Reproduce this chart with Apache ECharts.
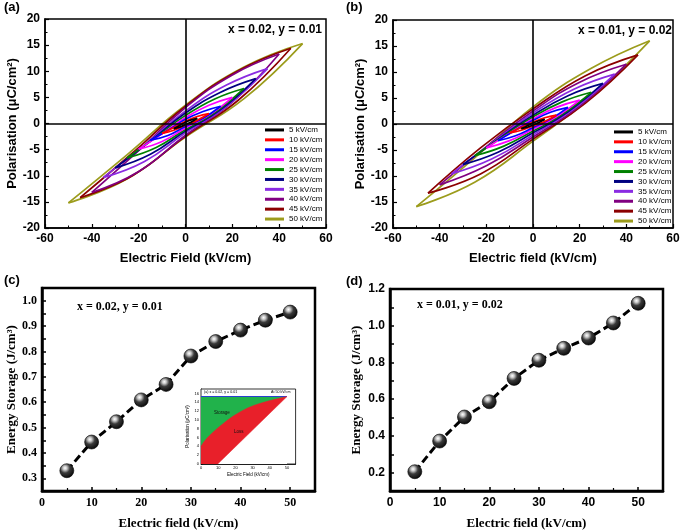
<!DOCTYPE html>
<html>
<head>
<meta charset="utf-8">
<script src="https://cdn.jsdelivr.net/npm/echarts@6/dist/echarts.min.js"></script>
<style>
html,body{margin:0;padding:0;background:#fff;}
#chart{width:685px;height:531px;}
</style>
</head>
<body>
<div id="chart"></div>
<script>
// ---------- DATA ----------
const fields = [5, 10, 15, 20, 25, 30, 35, 40, 45, 50];
const loopNames = fields.map(f => f + ' kV/cm');

// Panel (a) x = 0.02, y = 0.01 : rising branch (-Emax -> +Emax), falling branch (+Emax -> -Emax)
const aUpper = [
  [[-5,-1.0],[-2.5,-0.4],[0,0.25],[2.5,0.7],[5,1.0]],
  [[-10,-1.9],[-5,-0.75],[0,0.45],[5,1.35],[10,1.9]],
  [[-15,-3.2],[-7.5,-1.3],[0,0.8],[7.5,2.3],[15,3.3]],
  [[-20,-4.9],[-10,-1.95],[0,1.15],[10,3.5],[20,5.0]],
  [[-25,-6.6],[-12.5,-2.6],[0,1.55],[12.5,4.7],[25,6.7]],
  [[-30,-8.5],[-15,-3.35],[0,2.0],[15,6.0],[30,8.6]],
  [[-35,-10.3],[-17.5,-4.1],[0,2.4],[17.5,7.35],[35,10.5]],
  [[-40,-13.2],[-20,-5.2],[0,3.05],[20,9.3],[40,13.3]],
  [[-45,-14.2],[-22.5,-5.6],[0,3.3],[22.5,10.1],[45,14.4]],
  [[-50,-15.2],[-25,-6.0],[0,3.5],[25,10.8],[50,15.3]]
];
const aLower = [
  [[5,1.0],[2.5,0.3],[0,-0.2],[-2.5,-0.7],[-5,-1.0]],
  [[10,1.9],[5,0.6],[0,-0.3],[-5,-1.3],[-10,-1.9]],
  [[15,3.3],[7.5,1.0],[0,-0.55],[-7.5,-2.3],[-15,-3.2]],
  [[20,5.0],[10,1.55],[0,-0.85],[-10,-3.45],[-20,-4.9]],
  [[25,6.7],[12.5,2.1],[0,-1.15],[-12.5,-4.6],[-25,-6.6]],
  [[30,8.6],[15,2.65],[0,-1.45],[-15,-5.9],[-30,-8.5]],
  [[35,10.5],[17.5,3.25],[0,-1.8],[-17.5,-7.25],[-35,-10.3]],
  [[40,13.3],[20,4.1],[0,-2.25],[-20,-9.2],[-40,-13.2]],
  [[45,14.4],[22.5,4.45],[0,-2.45],[-22.5,-9.95],[-45,-14.2]],
  [[50,15.3],[25,4.75],[0,-2.6],[-25,-10.6],[-50,-15.2]]
];

// Panel (b) x = 0.01, y = 0.02
const bUpper = [
  [[-5,-0.9],[-2.5,-0.35],[0,0.2],[2.5,0.63],[5,0.9]],
  [[-10,-1.7],[-5,-0.65],[0,0.37],[5,1.2],[10,1.7]],
  [[-15,-3.2],[-7.5,-1.2],[0,0.7],[7.5,2.25],[15,3.2]],
  [[-20,-4.6],[-10,-1.75],[0,1.0],[10,3.2],[20,4.6]],
  [[-25,-6.1],[-12.5,-2.3],[0,1.35],[12.5,4.25],[25,6.1]],
  [[-30,-7.8],[-15,-2.95],[0,1.7],[15,5.45],[30,7.8]],
  [[-35,-9.6],[-17.5,-3.65],[0,2.1],[17.5,6.7],[35,9.6]],
  [[-40,-11.7],[-20,-4.35],[0,2.5],[20,8.05],[40,11.5]],
  [[-45,-13.3],[-22.5,-4.6],[0,2.9],[22.5,9.3],[45,13.3]],
  [[-50,-15.9],[-25,-6.5],[0,3.3],[25,10.7],[50,16.0]]
];
const bLower = [
  [[5,0.9],[2.5,0.27],[0,-0.2],[-2.5,-0.63],[-5,-0.9]],
  [[10,1.7],[5,0.5],[0,-0.37],[-5,-1.2],[-10,-1.7]],
  [[15,3.2],[7.5,0.95],[0,-0.7],[-7.5,-2.25],[-15,-3.2]],
  [[20,4.6],[10,1.4],[0,-1.0],[-10,-3.2],[-20,-4.6]],
  [[25,6.1],[12.5,1.85],[0,-1.35],[-12.5,-4.25],[-25,-6.1]],
  [[30,7.8],[15,2.35],[0,-1.7],[-15,-5.45],[-30,-7.8]],
  [[35,9.6],[17.5,2.9],[0,-2.1],[-17.5,-6.7],[-35,-9.6]],
  [[40,11.5],[20,3.45],[0,-2.5],[-20,-8.05],[-40,-11.7]],
  [[45,13.3],[22.5,4.0],[0,-2.9],[-22.5,-9.6],[-45,-13.3]],
  [[50,16.0],[25,5.2],[0,-3.3],[-25,-11.2],[-50,-15.9]]
];

// Panels (c) and (d): energy storage vs field
const energyField = [5, 10, 15, 20, 25, 30, 35, 40, 45, 50];
const cEnergy = [0.330, 0.443, 0.523, 0.609, 0.670, 0.782, 0.839, 0.884, 0.923, 0.955];
const dEnergy = [0.205, 0.372, 0.503, 0.586, 0.713, 0.812, 0.877, 0.933, 1.015, 1.122];

// Inset of (c): P-E at 50 kV/cm
const insetTop = [[0,15.3],[50,15.3]];
const insetDischarge = [[0,4.0],[3.3,5.8],[13,9.2],[22.7,11.8],[32.4,13.5],[50,15.3]];
const insetCharge = [[9.7,0],[50,15.3]];

// ---------- STYLE ----------
const loopColors = ['#000000','#ff0000','#0000ff','#ff00ff','#008000','#000080','#8a2be2','#800080','#8b0000','#9c9c1c'];
const SANS = 'Liberation Sans, Arial, sans-serif';
const SERIF = 'Liberation Serif, Times New Roman, serif';

const chart = echarts.init(document.getElementById('chart'), null, {renderer: 'canvas'});

function peAxes(gi, xName) {
  const x = {
    gridIndex: gi, type: 'value', min: -60, max: 60, interval: 20,
    axisLine: {onZero: false, lineStyle: {color: '#000', width: 1.5}},
    axisTick: {inside: true, length: 4, lineStyle: {color: '#000', width: 1.2}},
    minorTick: {show: true, splitNumber: 2, length: 2.5, lineStyle: {color: '#000', width: 1}},
    splitLine: {show: false},
    axisLabel: {color: '#000', fontSize: 12, fontWeight: 'bold', fontFamily: SANS, margin: 5},
    name: xName, nameLocation: 'middle', nameGap: 24,
    nameTextStyle: {color: '#000', fontSize: 13, fontWeight: 'bold', fontFamily: SANS}
  };
  const y = {
    gridIndex: gi, type: 'value', min: -20, max: 20, interval: 5,
    axisLine: {onZero: false, lineStyle: {color: '#000', width: 1.5}},
    axisTick: {inside: true, length: 4, lineStyle: {color: '#000', width: 1.2}},
    minorTick: {show: true, splitNumber: 2, length: 2.5, lineStyle: {color: '#000', width: 1}},
    splitLine: {show: false},
    axisLabel: {color: '#000', fontSize: 12, fontWeight: 'bold', fontFamily: SANS, margin: 5},
    name: 'Polarisation (\u03bcC/cm\u00b2)', nameLocation: 'middle', nameGap: 26, nameRotate: 90,
    nameTextStyle: {color: '#000', fontSize: 13, fontWeight: 'bold', fontFamily: SANS}
  };
  return [x, y];
}

function loopSeries(upper, lower, gi) {
  const out = [];
  for (let i = fields.length - 1; i >= 0; i--) {
    [upper[i], lower[i]].forEach(br => {
      out.push({
        type: 'line', name: loopNames[i], xAxisIndex: gi, yAxisIndex: gi,
        data: br, smooth: 0.45, symbol: 'none', showSymbol: false,
        lineStyle: {color: loopColors[i], width: 1.7}, itemStyle: {color: loopColors[i]},
        silent: true, z: 3
      });
    });
  }
  out[0].markLine = {
    silent: true, symbol: 'none', label: {show: false}, animation: false,
    lineStyle: {color: '#000', width: 1.6, type: 'solid'},
    data: [{xAxis: 0}, {yAxis: 0}]
  };
  return out;
}

function energyAxes(gi, yMin, yMax, yInt, labelFn, tickFont) {
  const x = {
    gridIndex: gi, type: 'value', min: 0, max: 55, interval: 10,
    axisLine: {onZero: false, lineStyle: {color: '#000', width: 2.5}},
    axisTick: {inside: true, length: 4, lineStyle: {color: '#000', width: 1.5}},
    minorTick: {show: true, splitNumber: 2, length: 3, lineStyle: {color: '#000', width: 1.2}},
    splitLine: {show: false},
    axisLabel: {color: '#000', fontSize: tickFont.size, fontWeight: 'bold', fontFamily: tickFont.family, margin: 6,
      formatter: v => (v <= 50 ? String(v) : '')},
    name: 'Electric field (kV/cm)', nameLocation: 'middle', nameGap: 26,
    nameTextStyle: {color: '#000', fontSize: 13, fontWeight: 'bold', fontFamily: SERIF}
  };
  const y = {
    gridIndex: gi, type: 'value', min: yMin, max: yMax, interval: yInt,
    axisLine: {onZero: false, lineStyle: {color: '#000', width: 2.5}},
    axisTick: {inside: true, length: 4, lineStyle: {color: '#000', width: 1.5}},
    splitLine: {show: false},
    axisLabel: {color: '#000', fontSize: tickFont.size, fontWeight: 'bold', fontFamily: tickFont.family, margin: 5,
      formatter: labelFn},
    name: 'Energy Storage (J/cm\u00b3)', nameLocation: 'middle', nameGap: 25, nameRotate: 90,
    nameTextStyle: {color: '#000', fontSize: 13, fontWeight: 'bold', fontFamily: SERIF}
  };
  return [x, y];
}

const sphere = {
  type: 'radial', x: 0.38, y: 0.32, r: 0.75,
  colorStops: [
    {offset: 0, color: '#ffffff'},
    {offset: 0.18, color: '#c8c8c8'},
    {offset: 0.45, color: '#3a3a3a'},
    {offset: 1, color: '#000000'}
  ]
};

function energySeries(vals, gi) {
  return {
    type: 'line', xAxisIndex: gi, yAxisIndex: gi,
    data: energyField.map((e, i) => [e, vals[i]]),
    symbol: 'circle', symbolSize: 14, showSymbol: true,
    lineStyle: {color: '#000', width: 3, type: [8, 4]},
    itemStyle: {color: sphere, borderColor: '#000', borderWidth: 0.6},
    silent: true, z: 3
  };
}

const cAx = energyAxes(2, 0.25, 1.05, 0.05,
  v => { const t = Math.round(v * 100); return (t % 10 === 0 && v > 0.27 && v < 1.02) ? v.toFixed(1) : ''; },
  {size: 12, family: SERIF});
const dAx = energyAxes(3, 0.1, 1.2, 0.1,
  v => { const t = Math.round(v * 10); return (t % 2 === 0) ? v.toFixed(1) : ''; },
  {size: 12, family: SANS});
cAx[1].nameGap = 24;
dAx[1].nameGap = 27;

const aAx = peAxes(0, 'Electric Field (kV/cm)');
const bAx = peAxes(1, 'Electric field (kV/cm)');

const insetX = {
  gridIndex: 4, type: 'value', min: 0, max: 55, interval: 10,
  axisLine: {onZero: false, lineStyle: {color: '#000', width: 0.8}},
  axisTick: {inside: true, length: 1.5, lineStyle: {color: '#000', width: 0.6}},
  splitLine: {show: false},
  axisLabel: {color: '#000', fontSize: 4, fontFamily: SANS, margin: 2, formatter: v => (v <= 50 ? String(v) : '')},
  name: 'Electric Field (kV/cm)', nameLocation: 'middle', nameGap: 8,
  nameTextStyle: {color: '#000', fontSize: 4.5, fontFamily: SANS}
};
const insetY = {
  gridIndex: 4, type: 'value', min: 0, max: 17, interval: 2,
  axisLine: {onZero: false, lineStyle: {color: '#000', width: 0.8}},
  axisTick: {inside: true, length: 1.5, lineStyle: {color: '#000', width: 0.6}},
  splitLine: {show: false},
  axisLabel: {color: '#000', fontSize: 4, fontFamily: SANS, margin: 2, formatter: v => (v <= 16 ? String(v) : '')},
  name: 'Polarisation (\u03bcC/cm\u00b2)', nameLocation: 'middle', nameGap: 7, nameRotate: 90,
  nameTextStyle: {color: '#000', fontSize: 4.5, fontFamily: SANS}
};

const insetSeries = [
  {type: 'line', xAxisIndex: 4, yAxisIndex: 4, data: insetTop, symbol: 'none', silent: true,
   lineStyle: {color: '#2a3fd0', width: 1}, areaStyle: {color: '#21b24b', opacity: 1}, z: 4},
  {type: 'line', xAxisIndex: 4, yAxisIndex: 4, data: insetDischarge, smooth: 0.4, symbol: 'none', silent: true,
   lineStyle: {color: '#e8202a', width: 0.5}, areaStyle: {color: '#e8202a', opacity: 1}, z: 4},
  {type: 'line', xAxisIndex: 4, yAxisIndex: 4, data: insetCharge, symbol: 'none', silent: true,
   lineStyle: {color: '#e8202a', width: 0.5}, areaStyle: {color: '#ffffff', opacity: 1}, z: 4}
];

const legendBase = {
  data: loopNames, orient: 'vertical', icon: 'rect', itemWidth: 19, itemHeight: 3, itemGap: 0,
  padding: 0, selectedMode: false,
  textStyle: {fontSize: 8, fontFamily: SANS, color: '#000', lineHeight: 9.9}
};

const option = {
  animation: false,
  backgroundColor: '#ffffff',
  grid: [
    {left: 45, top: 19, width: 281, height: 209, show: true, borderColor: '#000', borderWidth: 1.5, backgroundColor: 'transparent'},
    {left: 393, top: 20, width: 280, height: 208, show: true, borderColor: '#000', borderWidth: 1.5, backgroundColor: 'transparent'},
    {left: 42, top: 288, width: 273, height: 203, show: true, borderColor: '#000', borderWidth: 2.5, backgroundColor: 'transparent'},
    {left: 390, top: 289, width: 273, height: 202, show: true, borderColor: '#000', borderWidth: 2.5, backgroundColor: 'transparent'},
    {left: 201, top: 389, width: 94.6, height: 75, show: true, borderColor: '#000', borderWidth: 0.8, backgroundColor: '#ffffff', z: 3}
  ],
  xAxis: [aAx[0], bAx[0], cAx[0], dAx[0], insetX],
  yAxis: [aAx[1], bAx[1], cAx[1], dAx[1], insetY],
  legend: [
    Object.assign({}, legendBase, {left: 265, top: 125}),
    Object.assign({}, legendBase, {left: 614, top: 127})
  ],
  series: [].concat(
    loopSeries(aUpper, aLower, 0),
    loopSeries(bUpper, bLower, 1),
    [energySeries(cEnergy, 2), energySeries(dEnergy, 3)],
    insetSeries
  ),
  graphic: [
    {type: 'text', left: 4, top: 1, style: {text: '(a)', font: 'bold 13px ' + SANS, fill: '#000'}},
    {type: 'text', left: 346, top: 1, style: {text: '(b)', font: 'bold 13px ' + SANS, fill: '#000'}},
    {type: 'text', left: 4, top: 274, style: {text: '(c)', font: 'bold 13px ' + SANS, fill: '#000'}},
    {type: 'text', left: 346, top: 275, style: {text: '(d)', font: 'bold 13px ' + SANS, fill: '#000'}},
    {type: 'text', right: 685 - 322, top: 24, style: {text: 'x = 0.02, y = 0.01', font: 'bold 12px ' + SANS, fill: '#000'}},
    {type: 'text', right: 685 - 672, top: 25, style: {text: 'x = 0.01, y = 0.02', font: 'bold 12px ' + SANS, fill: '#000'}},
    {type: 'text', left: 77, top: 301, style: {text: 'x = 0.02, y = 0.01', font: 'bold 12px ' + SERIF, fill: '#000'}},
    {type: 'text', left: 417, top: 299, style: {text: 'x = 0.01, y = 0.02', font: 'bold 12px ' + SERIF, fill: '#000'}},
    {type: 'text', left: 204, top: 390, z: 20, style: {text: '(a) x = 0.02, y = 0.01', font: '3.6px ' + SANS, fill: '#000'}},
    {type: 'text', left: 271, top: 390, z: 20, style: {text: 'At 50 kV/cm', font: '3.6px ' + SANS, fill: '#000'}},
    {type: 'text', left: 214, top: 410, z: 20, style: {text: 'Storage', font: '4.5px ' + SANS, fill: '#111'}},
    {type: 'text', left: 234, top: 429, z: 20, style: {text: 'Loss', font: '4.5px ' + SANS, fill: '#111'}}
  ]
};

chart.setOption(option);
</script>
</body>
</html>
